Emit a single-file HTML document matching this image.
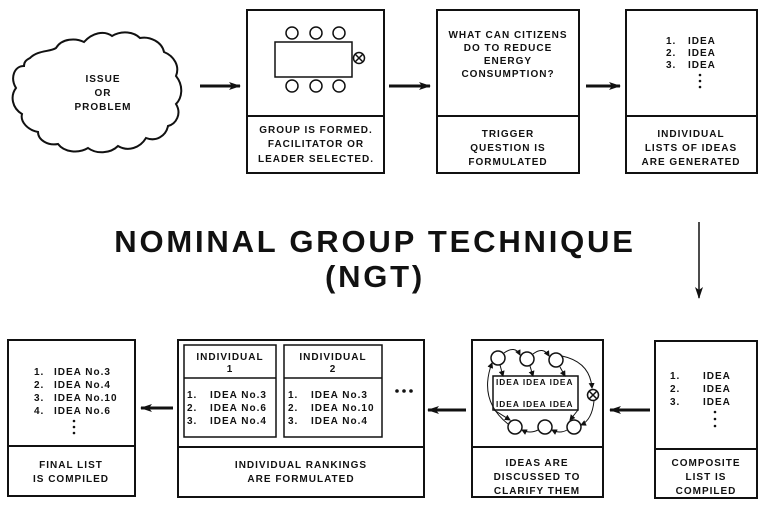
<!DOCTYPE html>
<html><head><meta charset="utf-8"><style>
html,body{margin:0;padding:0;background:#fff;}
svg{display:block;}
text{font-family:"Liberation Sans",Arial,sans-serif;font-weight:bold;fill:#111;letter-spacing:1px;}
.s{font-size:10px;}
.t{font-size:8.3px;}
</style></head><body>
<svg width="766" height="508" viewBox="0 0 766 508" xmlns="http://www.w3.org/2000/svg">
<defs>
<marker id="ah" markerWidth="12" markerHeight="8" refX="11" refY="4" orient="auto" markerUnits="userSpaceOnUse">
<path d="M0,0 L12,4 L0,8 L3,4 Z" fill="#111"/></marker>
<marker id="sa" markerWidth="6" markerHeight="6" refX="5" refY="3" orient="auto" markerUnits="userSpaceOnUse">
<path d="M0,0 L6,3 L0,6 Z" fill="#111"/></marker>
</defs>
<g fill="none" stroke="#111" stroke-width="2">
<!-- cloud -->
<path d="M30,58 C38,50 50,52 56,48 C62,38 76,38 84,42 C92,33 104,30 112,36 C122,30 134,32 140,38 C150,36 162,42 164,52 C174,56 180,66 176,76 C184,86 182,98 176,104 C182,114 176,124 168,126 C166,136 156,142 146,138 C140,148 128,152 118,146 C110,154 96,154 88,148 C78,154 64,152 58,144 C48,146 38,140 38,132 C28,130 20,122 22,114 C12,108 10,96 16,88 C10,78 14,66 24,66 C24,62 26,60 30,58 Z"/>
<!-- top boxes -->
<rect x="247" y="10" width="137" height="163"/><line x1="247" y1="116" x2="384" y2="116"/>
<rect x="437" y="10" width="142" height="163"/><line x1="437" y1="116" x2="579" y2="116"/>
<rect x="626" y="10" width="131" height="163"/><line x1="626" y1="116" x2="757" y2="116"/>
<!-- bottom boxes -->
<rect x="8" y="340" width="127" height="156"/><line x1="8" y1="446" x2="135" y2="446"/>
<rect x="178" y="340" width="246" height="157"/><line x1="178" y1="447" x2="424" y2="447"/>
<rect x="472" y="340" width="131" height="157"/><line x1="472" y1="447" x2="603" y2="447"/>
<rect x="655" y="341" width="102" height="157"/><line x1="655" y1="449" x2="757" y2="449"/>
</g>
<g fill="none" stroke="#111" stroke-width="1.5">
<rect x="184" y="345" width="92" height="92"/><line x1="184" y1="378" x2="276" y2="378"/>
<rect x="284" y="345" width="98" height="92"/><line x1="284" y1="378" x2="382" y2="378"/>
<!-- group table -->
<rect x="275" y="42" width="77" height="35"/>
<circle cx="292" cy="33" r="6"/><circle cx="316" cy="33" r="6"/><circle cx="339" cy="33" r="6"/>
<circle cx="292" cy="86" r="6"/><circle cx="316" cy="86" r="6"/><circle cx="339" cy="86" r="6"/>
<circle cx="359" cy="58" r="5.5"/><path d="M355,54 L363,62 M363,54 L355,62"/>
<!-- discussion -->
<rect x="493" y="376" width="85" height="34"/>
<circle cx="498" cy="358" r="7"/><circle cx="527" cy="359" r="7"/><circle cx="556" cy="360" r="7"/>
<circle cx="515" cy="427" r="7"/><circle cx="545" cy="427" r="7"/><circle cx="574" cy="427" r="7"/>
<circle cx="593" cy="395" r="5.5"/><path d="M589,391 L597,399 M597,391 L589,399"/>
</g>
<g fill="none" stroke="#111" stroke-width="1">
<path d="M504,353 Q515,345 520,355" marker-end="url(#sa)"/>
<path d="M533,354 Q543,346 549,356" marker-end="url(#sa)"/>
<path d="M562,356 Q590,362 592,388" marker-end="url(#sa)"/>
<path d="M594,401 Q592,420 581,425" marker-end="url(#sa)"/>
<path d="M567,430 Q560,434 552,430" marker-end="url(#sa)"/>
<path d="M538,430 Q530,434 522,430" marker-end="url(#sa)"/>
<path d="M508,424 Q478,400 492,363" marker-end="url(#sa)"/>
<path d="M500,365 L503,376" marker-end="url(#sa)"/>
<path d="M530,366 L533,376" marker-end="url(#sa)"/>
<path d="M560,367 L565,376" marker-end="url(#sa)"/>
<path d="M494,410 L510,420" marker-end="url(#sa)"/>
<path d="M578,410 L570,420" marker-end="url(#sa)"/>
</g>
<!-- arrows -->
<g stroke="#111" stroke-width="3" fill="none">
<line x1="200" y1="86" x2="240" y2="86" marker-end="url(#ah)"/>
<line x1="389" y1="86" x2="430" y2="86" marker-end="url(#ah)"/>
<line x1="586" y1="86" x2="620" y2="86" marker-end="url(#ah)"/>
<line x1="173" y1="408" x2="141" y2="408" marker-end="url(#ah)"/>
<line x1="466" y1="410" x2="428" y2="410" marker-end="url(#ah)"/>
<line x1="650" y1="410" x2="610" y2="410" marker-end="url(#ah)"/>
</g>
<line x1="699" y1="222" x2="699" y2="298" stroke="#111" stroke-width="1.5" marker-end="url(#ah)"/>
<!-- text -->
<g class="s" text-anchor="middle">
<text x="103" y="82">ISSUE</text><text x="103" y="96">OR</text><text x="103" y="110">PROBLEM</text>
<text x="316" y="133">GROUP IS FORMED.</text><text x="316" y="147">FACILITATOR OR</text><text x="316" y="162">LEADER SELECTED.</text>
<text x="508" y="38">WHAT CAN CITIZENS</text><text x="508" y="51">DO TO REDUCE</text><text x="508" y="64">ENERGY</text><text x="508" y="77">CONSUMPTION?</text>
<text x="508" y="137">TRIGGER</text><text x="508" y="151">QUESTION IS</text><text x="508" y="165">FORMULATED</text>
<text x="691" y="137">INDIVIDUAL</text><text x="691" y="151">LISTS OF IDEAS</text><text x="691" y="165">ARE GENERATED</text>
<text x="71" y="468">FINAL LIST</text><text x="71" y="482">IS COMPILED</text>
<text x="301" y="468">INDIVIDUAL RANKINGS</text><text x="301" y="482">ARE FORMULATED</text>
<text x="537" y="466">IDEAS ARE</text><text x="537" y="480">DISCUSSED TO</text><text x="537" y="494">CLARIFY THEM</text>
<text x="706" y="466">COMPOSITE</text><text x="706" y="480">LIST IS</text><text x="706" y="494">COMPILED</text>
<text x="230" y="360">INDIVIDUAL</text><text x="230" y="372">1</text>
<text x="333" y="360">INDIVIDUAL</text><text x="333" y="372">2</text>
</g>
<g class="s">
<text x="666" y="44">1.</text><text x="688" y="44">IDEA</text>
<text x="666" y="56">2.</text><text x="688" y="56">IDEA</text>
<text x="666" y="68">3.</text><text x="688" y="68">IDEA</text>
<text x="670" y="379">1.</text><text x="703" y="379">IDEA</text>
<text x="670" y="392">2.</text><text x="703" y="392">IDEA</text>
<text x="670" y="405">3.</text><text x="703" y="405">IDEA</text>
<text x="34" y="375">1.</text><text x="54" y="375">IDEA No.3</text>
<text x="34" y="388">2.</text><text x="54" y="388">IDEA No.4</text>
<text x="34" y="401">3.</text><text x="54" y="401">IDEA No.10</text>
<text x="34" y="414">4.</text><text x="54" y="414">IDEA No.6</text>
<text x="187" y="398">1.</text><text x="210" y="398">IDEA No.3</text>
<text x="187" y="411">2.</text><text x="210" y="411">IDEA No.6</text>
<text x="187" y="424">3.</text><text x="210" y="424">IDEA No.4</text>
<text x="288" y="398">1.</text><text x="311" y="398">IDEA No.3</text>
<text x="288" y="411">2.</text><text x="311" y="411">IDEA No.10</text>
<text x="288" y="424">3.</text><text x="311" y="424">IDEA No.4</text>
</g>
<g class="t" style="letter-spacing:0">
<text x="496" y="385">IDEA IDEA IDEA</text>
<text x="496" y="407">IDEA IDEA IDEA</text>
</g>
<!-- vertical dots -->
<g fill="#111">
<circle cx="700" cy="75" r="1.3"/><circle cx="700" cy="81" r="1.3"/><circle cx="700" cy="87" r="1.3"/>
<circle cx="715" cy="412" r="1.3"/><circle cx="715" cy="419" r="1.3"/><circle cx="715" cy="426" r="1.3"/>
<circle cx="74" cy="421" r="1.3"/><circle cx="74" cy="427" r="1.3"/><circle cx="74" cy="433" r="1.3"/>
<circle cx="397" cy="391" r="1.8"/><circle cx="404" cy="391" r="1.8"/><circle cx="411" cy="391" r="1.8"/>
</g>
<text x="375" y="252" text-anchor="middle" style="font-size:31px;letter-spacing:2.8px">NOMINAL GROUP TECHNIQUE</text>
<text x="375" y="287" text-anchor="middle" style="font-size:31px;letter-spacing:2.8px">(NGT)</text>
</svg>
</body></html>
